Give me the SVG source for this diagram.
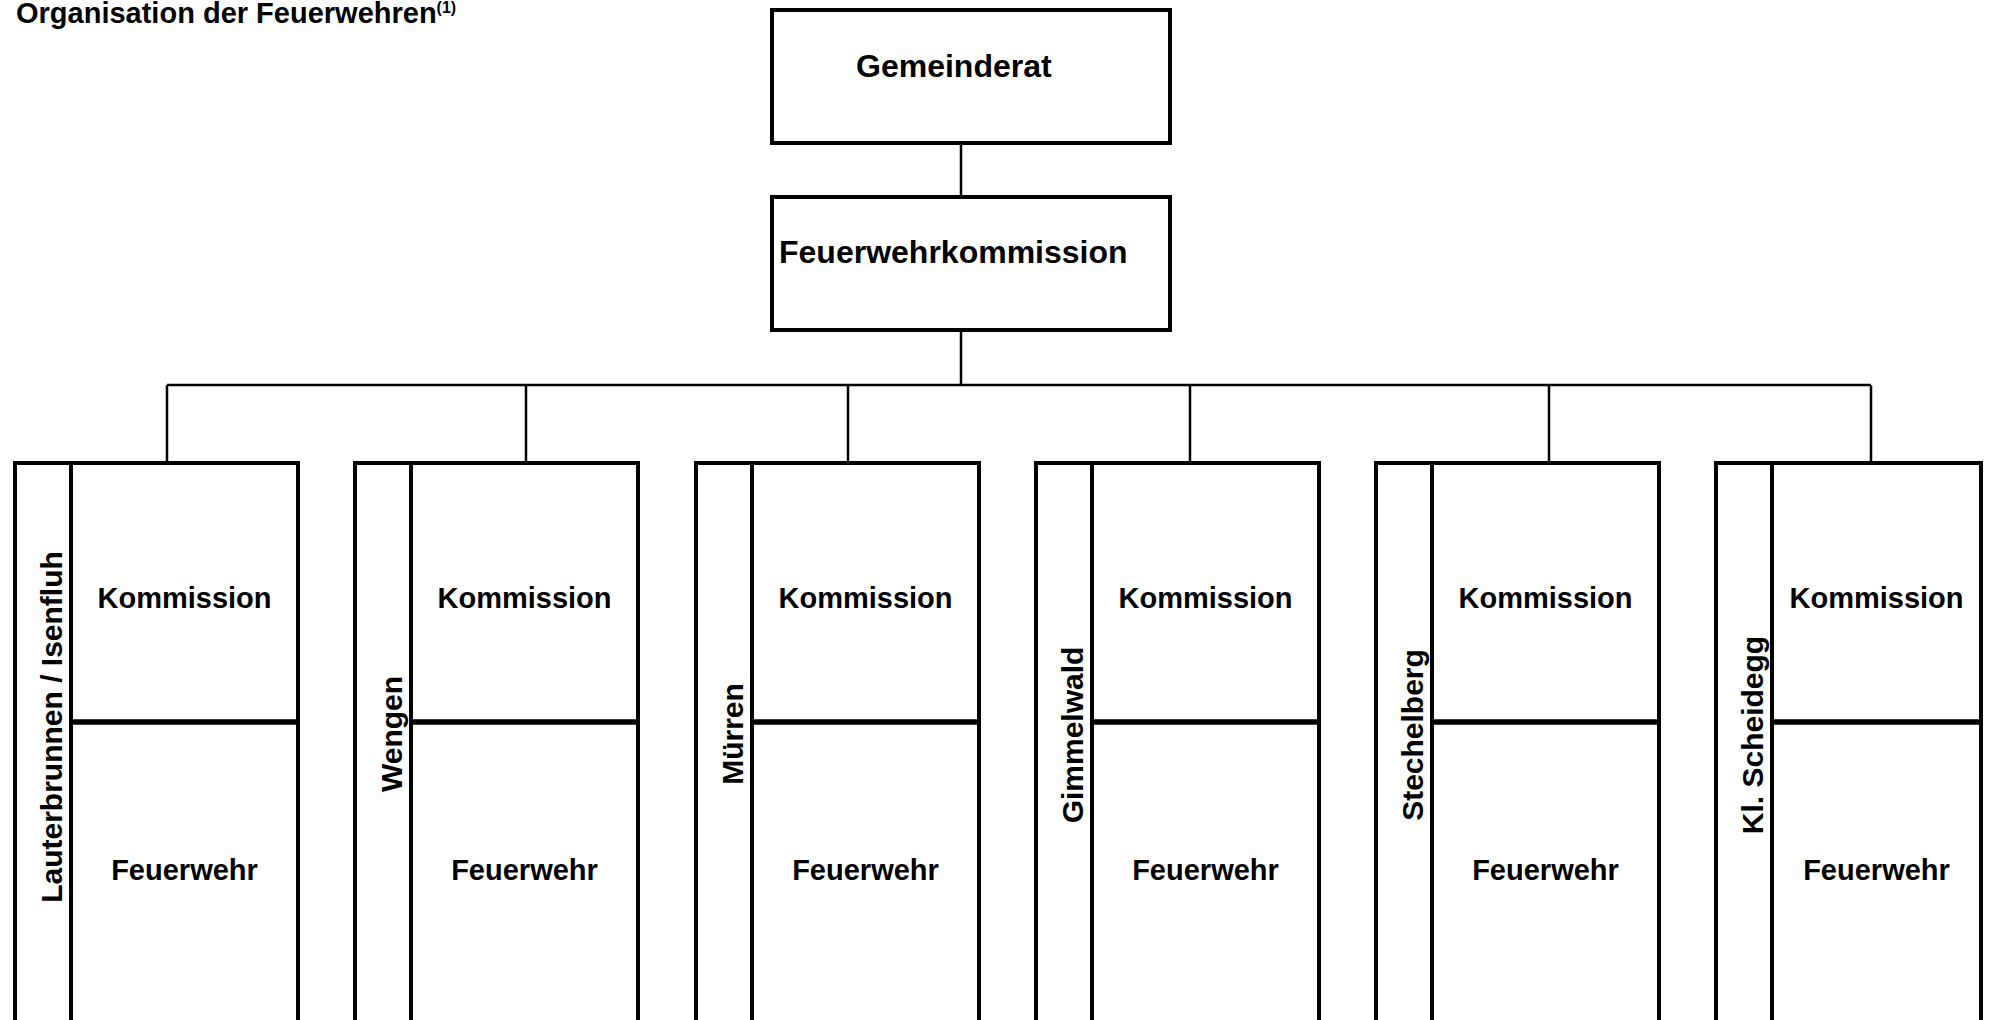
<svg xmlns="http://www.w3.org/2000/svg" width="1989" height="1020" viewBox="0 0 1989 1020">
<style>
text{font-family:"Liberation Sans",Arial,sans-serif;font-weight:bold;fill:#000}
.box{fill:#fff;stroke:#000;stroke-width:4}
.col{fill:#fff;stroke:#000;stroke-width:4}
.div{stroke:#000;stroke-width:4}
.hdiv{stroke:#000;stroke-width:5.5}
.conn{stroke:#000;stroke-width:2.5;fill:none}
.big{font-size:32px}
.mid{font-size:29px}
.lbl{font-size:29px;text-anchor:middle}
.vl{font-size:30px;text-anchor:middle}
</style>
<rect width="1989" height="1020" fill="#fff"/>
<text x="16" y="23" class="mid">Organisation der Feuerwehren<tspan font-size="16" dy="-10">(1)</tspan></text>

<g id="connectors">
<line class="conn" x1="961" y1="143" x2="961" y2="197"/>
<line class="conn" x1="961" y1="330" x2="961" y2="385"/>
<line class="conn" x1="167" y1="385" x2="1871" y2="385"/>
<line class="conn" x1="167" y1="385" x2="167" y2="463"/>
<line class="conn" x1="526" y1="385" x2="526" y2="463"/>
<line class="conn" x1="848" y1="385" x2="848" y2="463"/>
<line class="conn" x1="1190" y1="385" x2="1190" y2="463"/>
<line class="conn" x1="1549" y1="385" x2="1549" y2="463"/>
<line class="conn" x1="1871" y1="385" x2="1871" y2="463"/>
</g>

<g id="gemeinderat">
<rect class="box" x="772" y="10" width="398" height="133"/>
<text x="856" y="77" class="big">Gemeinderat</text>
</g>
<g id="feuerwehrkommission">
<rect class="box" x="772" y="197" width="398" height="133"/>
<text x="779" y="263" class="big">Feuerwehrkommission</text>
</g>

<g id="lauterbrunnen">
<rect class="col" x="15" y="463" width="283" height="600"/>
<line class="div" x1="71" y1="463" x2="71" y2="1025"/>
<line class="hdiv" x1="71" y1="722" x2="298" y2="722"/>
<text class="vl" transform="translate(62,727) rotate(-90)">Lauterbrunnen / Isenfluh</text>
<text class="lbl" x="184.5" y="608">Kommission</text>
<text class="lbl" x="184.5" y="880">Feuerwehr</text>
</g>
<g id="wengen">
<rect class="col" x="355" y="463" width="283" height="600"/>
<line class="div" x1="411" y1="463" x2="411" y2="1025"/>
<line class="hdiv" x1="411" y1="722" x2="638" y2="722"/>
<text class="vl" transform="translate(402,734) rotate(-90)">Wengen</text>
<text class="lbl" x="524.5" y="608">Kommission</text>
<text class="lbl" x="524.5" y="880">Feuerwehr</text>
</g>
<g id="muerren">
<rect class="col" x="696" y="463" width="283" height="600"/>
<line class="div" x1="752" y1="463" x2="752" y2="1025"/>
<line class="hdiv" x1="752" y1="722" x2="979" y2="722"/>
<text class="vl" transform="translate(743,734) rotate(-90)">Mürren</text>
<text class="lbl" x="865.5" y="608">Kommission</text>
<text class="lbl" x="865.5" y="880">Feuerwehr</text>
</g>
<g id="gimmelwald">
<rect class="col" x="1036" y="463" width="283" height="600"/>
<line class="div" x1="1092" y1="463" x2="1092" y2="1025"/>
<line class="hdiv" x1="1092" y1="722" x2="1319" y2="722"/>
<text class="vl" transform="translate(1083,735) rotate(-90)">Gimmelwald</text>
<text class="lbl" x="1205.5" y="608">Kommission</text>
<text class="lbl" x="1205.5" y="880">Feuerwehr</text>
</g>
<g id="stechelberg">
<rect class="col" x="1376" y="463" width="283" height="600"/>
<line class="div" x1="1432" y1="463" x2="1432" y2="1025"/>
<line class="hdiv" x1="1432" y1="722" x2="1659" y2="722"/>
<text class="vl" transform="translate(1423,735) rotate(-90)">Stechelberg</text>
<text class="lbl" x="1545.5" y="608">Kommission</text>
<text class="lbl" x="1545.5" y="880">Feuerwehr</text>
</g>
<g id="kl-scheidegg">
<rect class="col" x="1716" y="463" width="265" height="600"/>
<line class="div" x1="1772" y1="463" x2="1772" y2="1025"/>
<line class="hdiv" x1="1772" y1="722" x2="1981" y2="722"/>
<text class="vl" transform="translate(1763,735) rotate(-90)">Kl. Scheidegg</text>
<text class="lbl" x="1876.5" y="608">Kommission</text>
<text class="lbl" x="1876.5" y="880">Feuerwehr</text>
</g>
</svg>
